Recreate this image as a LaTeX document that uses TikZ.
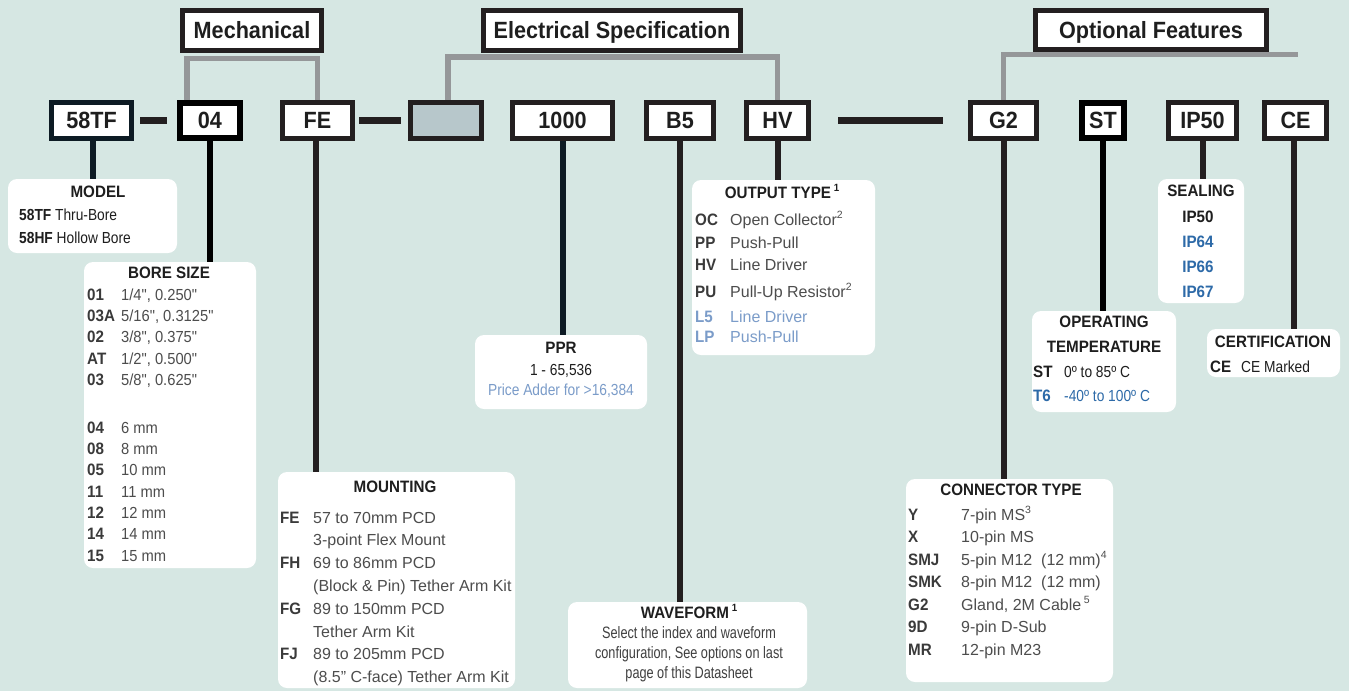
\documentclass[tikz,border=0pt]{standalone}
\usepackage{fontspec}
\setmainfont{Liberation Sans}
\newfontfamily\hf{Liberation Sans}[FakeStretch=0.92]
\newfontfamily\nf{Liberation Sans}[FakeStretch=0.86]
\newfontfamily\wf{Liberation Sans}[FakeStretch=0.77]
\usetikzlibrary{calc}
\definecolor{bg}{HTML}{D6E7E3}
\definecolor{ink}{HTML}{231F20}
\definecolor{navy}{HTML}{0D1B24}
\definecolor{brk}{HTML}{959799}
\definecolor{grayfill}{HTML}{B7C7CB}
\definecolor{titlec}{HTML}{1E1E1E}
\definecolor{codec}{HTML}{3A3A3A}
\definecolor{valc}{HTML}{4D4D4D}
\definecolor{lblue}{HTML}{7B9CC9}
\definecolor{dblue}{HTML}{2D6AA8}
\pgfdeclarelayer{back}
\pgfdeclarelayer{lines}
\pgfsetlayers{back,lines,main}
\newcommand\supr[1]{\raisebox{0.42em}{\fontsize{10.5}{11}\selectfont #1}}
\newcommand\spec[7][]{\node[cd] (#2c) at (#3,#5) {#6};\node[vl,#1] (#2v) at (#4,#5) {#7};}
\begin{document}
\begin{tikzpicture}[x=1pt,y=-1pt,
  hdr/.style={draw=ink, line width=5pt, fill=white, inner sep=0pt, outer sep=0pt,
    font=\hf\bfseries\fontsize{23.5}{26}\selectfont, text=titlec,
    text height=16.8pt, text depth=0pt, minimum height=40pt},
  codebox/.style={hdr, minimum height=36pt},
  infobox/.style={fill=white, rounded corners=9pt, inner sep=0pt, outer sep=0pt, anchor=north west},
  stem/.style={draw=ink, line width=6pt},
  bracket/.style={draw=brk, line width=5.5pt},
  dashline/.style={draw=ink, line width=6.5pt},
  ttl/.style={inner sep=0pt, anchor=base, text=titlec, font=\hf\bfseries\fontsize{16.5}{18}\selectfont},
  cd/.style={inner sep=0pt, anchor=base west, text=codec, font=\hf\bfseries\fontsize{16.5}{18}\selectfont},
  vl/.style={inner sep=0pt, anchor=base west, text=valc, font=\fontsize{16}{18}\selectfont},
  hv/.style={font=\hf\fontsize{16}{18}\selectfont},
  nv/.style={font=\nf\fontsize{16}{18}\selectfont},
  cl/.style={inner sep=0pt, anchor=base, text=valc, font=\nf\fontsize{16}{18}\selectfont},
  wl/.style={inner sep=0pt, anchor=base, text=titlec!85!white, font=\wf\fontsize{16.5}{18}\selectfont},
  sealt/.style={inner sep=0pt, anchor=base, font=\hf\bfseries\fontsize{16.5}{18}\selectfont}
]
\useasboundingbox (0,0) rectangle (1349,691);
\begin{pgfonlayer}{back}
\fill[bg] (0,0) rectangle (1349,691);
\end{pgfonlayer}

% ---------- code boxes ----------
\path
  node[codebox, draw=navy, minimum width=80pt] (c58) at (91.5,120.5) {58TF}
  node[codebox, draw=black, line width=6pt, minimum width=60pt, minimum height=35pt] (c04) at (210,120.5) {04}
  node[codebox, minimum width=70pt] (cFE) at (317.5,120.5) {FE}
  node[codebox, fill=grayfill, minimum width=71pt] (cgray) at (446,120.5) {}
  node[codebox, minimum width=100pt] (c1000) at (562.5,120.5) {1000}
  node[codebox, minimum width=67pt] (cB5) at (680,120.5) {B5}
  node[codebox, minimum width=62pt] (cHV) at (777.5,120.5) {HV}
  node[codebox, minimum width=66pt] (cG2) at (1003.5,120.5) {G2}
  node[codebox, draw=black, line width=6pt, minimum width=42pt, minimum height=35pt] (cST) at (1103,120.5) {ST}
  node[codebox, minimum width=68pt] (cIP) at (1202.5,120.5) {IP50}
  node[codebox, minimum width=62pt] (cCE) at (1295.5,120.5) {CE};

% ---------- headers ----------
\path
  node[hdr, minimum width=139pt] (mech) at (252,30.5) {Mechanical}
  node[hdr, minimum width=257pt] (elec) at (612,30.5) {Electrical Specification}
  node[hdr, minimum width=231pt, minimum height=39pt] (opt) at (1151,30) {Optional Features};
\coordinate (optend) at (1298,54.5);

% ---------- info boxes ----------
\path
  node[infobox, minimum width=169pt, minimum height=74pt] (model) at (8,179) {}
  node[infobox, minimum width=172pt, minimum height=306pt] (bore) at (84,262) {}
  node[infobox, minimum width=237pt, minimum height=216pt] (mount) at (278,472) {}
  node[infobox, minimum width=172pt, minimum height=74pt] (ppr) at (475,335) {}
  node[infobox, minimum width=239pt, minimum height=86pt] (wave) at (568,602) {}
  node[infobox, minimum width=183pt, minimum height=175pt] (out) at (692,180) {}
  node[infobox, minimum width=207pt, minimum height=203pt] (conn) at (906,479) {}
  node[infobox, minimum width=86pt, minimum height=124pt] (sealb) at (1158,179) {}
  node[infobox, minimum width=144pt, minimum height=101pt] (temp) at (1032,311) {}
  node[infobox, minimum width=133pt, minimum height=48pt] (cert) at (1207,329) {};

% ---------- connectors (below the boxes) ----------
\begin{pgfonlayer}{lines}
\draw[bracket] ($(c04.north west)+(7,0)$) |- ($(mech.south)+(0,8)$) -| (cFE.north);
\draw[bracket] ($(cgray.north)+(2,0)$) |- ($(elec.south)+(0,6.5)$) -| (cHV.north);
\draw[bracket] (cG2.north) |- (optend);
\draw[dashline, shorten <=8.5pt, shorten >=13pt] (c58.east) -- (c04.west);
\draw[dashline, shorten <=6.5pt, shorten >=9.5pt] (cFE.east) -- (cgray.west);
\draw[dashline, shorten <=29.5pt, shorten >=27.5pt] (cHV.east) -- (cG2.west);
\draw[stem, draw=navy] ($(c58.south)+(1.5,0)$) -- ($(c58.south |- model.north)+(1.5,0)$);
\draw[stem, draw=black] (c04.south) -- (c04.south |- bore.north);
\draw[stem] ($(cFE.south)+(-2,0)$) -- ($(cFE.south |- mount.north)+(-2,0)$);
\draw[stem, draw=navy] (c1000.south) -- (c1000.south |- ppr.north);
\draw[stem] (cB5.south) -- (cB5.south |- wave.north);
\draw[stem] (cHV.south) -- (cHV.south |- out.north);
\draw[stem] (cG2.south) -- (cG2.south |- conn.north);
\draw[stem, draw=black] (cST.south) -- (cST.south |- temp.north);
\draw[stem] (cIP.south) -- (cIP.south |- sealb.north);
\draw[stem] ($(cCE.south)+(-2,0)$) -- ($(cCE.south |- cert.north)+(-2,0)$);
\end{pgfonlayer}

% ---------- MODEL ----------
\node[ttl] (modelT) at (98,197) {MODEL};
\node[inner sep=0pt, anchor=base west, text=titlec, font=\nf\fontsize{16}{18}\selectfont] (modelA) at (19,220) {\textbf{58TF} Thru-Bore};
\node[inner sep=0pt, anchor=base west, text=titlec, font=\nf\fontsize{16}{18}\selectfont] (modelB) at (19,243) {\textbf{58HF} Hollow Bore};

% ---------- BORE SIZE ----------
\node[ttl] (boreT) at (169,278) {BORE SIZE};
\spec[hv]{b1}{87}{121}{300}{01}{1/4", 0.250"}
\spec[hv]{b2}{87}{121}{321.3}{03A}{5/16", 0.3125"}
\spec[hv]{b3}{87}{121}{342.6}{02}{3/8", 0.375"}
\spec[hv]{b4}{87}{121}{364}{AT}{1/2", 0.500"}
\spec[hv]{b5}{87}{121}{385}{03}{5/8", 0.625"}
\spec[hv]{b6}{87}{121}{433}{04}{6 mm}
\spec[hv]{b7}{87}{121}{454}{08}{8 mm}
\spec[hv]{b8}{87}{121}{475.5}{05}{10 mm}
\spec[hv]{b9}{87}{121}{497}{11}{11 mm}
\spec[hv]{b10}{87}{121}{518}{12}{12 mm}
\spec[hv]{b11}{87}{121}{539.5}{14}{14 mm}
\spec[hv]{b12}{87}{121}{561}{15}{15 mm}

% ---------- MOUNTING ----------
\node[ttl] (mountT) at (395,492) {MOUNTING};
\spec{m1}{280}{313}{523}{FE}{57 to 70mm PCD}
\node[vl] (m2) at (313,545.8) {3-point Flex Mount};
\spec{m3}{280}{313}{568.6}{FH}{69 to 86mm PCD}
\node[vl] (m4) at (313,591.4) {(Block \& Pin) Tether Arm Kit};
\spec{m5}{280}{313}{614.2}{FG}{89 to 150mm PCD}
\node[vl] (m6) at (313,637) {Tether Arm Kit};
\spec{m7}{280}{313}{659.8}{FJ}{89 to 205mm PCD}
\node[vl] (m8) at (313,682.6) {(8.5" C-face) Tether Arm Kit};

% ---------- PPR ----------
\node[ttl] (pprT) at (561,353) {PPR};
\node[cl, text=titlec] (ppr1) at (561,375) {1 - 65,536};
\node[cl, text=lblue] (ppr2) at (561,395) {Price Adder for >16,384};

% ---------- WAVEFORM ----------
\node[ttl] (waveT) at (689,618) {WAVEFORM\,\supr{1}};
\node[wl] (wave1) at (689,638) {Select the index and waveform};
\node[wl] (wave2) at (689,658) {configuration, See options on last};
\node[wl] (wave3) at (689,678) {page of this Datasheet};

% ---------- OUTPUT TYPE ----------
\node[ttl] (outT) at (782,198) {OUTPUT TYPE\,\supr{1}};
\spec{o1}{695}{730}{225}{OC}{Open Collector\supr{2}}
\spec{o2}{695}{730}{248}{PP}{Push-Pull}
\spec{o3}{695}{730}{270}{HV}{Line Driver}
\spec{o4}{695}{730}{297}{PU}{Pull-Up Resistor\supr{2}}
\spec[text=lblue]{o5}{695}{730}{322}{\color{lblue}L5}{Line Driver}
\spec[text=lblue]{o6}{695}{730}{342}{\color{lblue}LP}{Push-Pull}

% ---------- CONNECTOR TYPE ----------
\node[ttl] (connT) at (1011,495) {CONNECTOR TYPE};
\spec{k1}{908}{961}{520}{Y}{7-pin MS\supr{3}}
\spec{k2}{908}{961}{542.5}{X}{10-pin MS}
\spec{k3}{908}{961}{565}{SMJ}{5-pin M12\ \ (12 mm)\supr{4}}
\spec{k4}{908}{961}{587.5}{SMK}{8-pin M12\ \ (12 mm)}
\spec{k5}{908}{961}{610}{G2}{Gland, 2M Cable\,\supr{5}}
\spec{k6}{908}{961}{632.5}{9D}{9-pin D-Sub}
\spec{k7}{908}{961}{655}{MR}{12-pin M23}

% ---------- SEALING ----------
\node[ttl] (sealT) at (1201,196) {SEALING};
\node[sealt, text=titlec] (s1) at (1198,222) {IP50};
\node[sealt, text=dblue] (s2) at (1198,247) {IP64};
\node[sealt, text=dblue] (s3) at (1198,272.5) {IP66};
\node[sealt, text=dblue] (s4) at (1198,297) {IP67};

% ---------- OPERATING TEMPERATURE ----------
\node[ttl] (tempT1) at (1104,327) {OPERATING};
\node[ttl] (tempT2) at (1104,352) {TEMPERATURE};
\spec[nv, text=titlec]{t1}{1033}{1064}{377}{\color{titlec}ST}{0º to 85º C}
\spec[nv, text=dblue]{t2}{1033}{1064}{401}{\color{dblue}T6}{-40º to 100º C}

% ---------- CERTIFICATION ----------
\node[ttl] (certT) at (1273,347) {CERTIFICATION};
\spec[nv, text=titlec]{e1}{1210}{1241}{372}{\color{titlec}CE}{CE Marked}
\end{tikzpicture}
\end{document}
